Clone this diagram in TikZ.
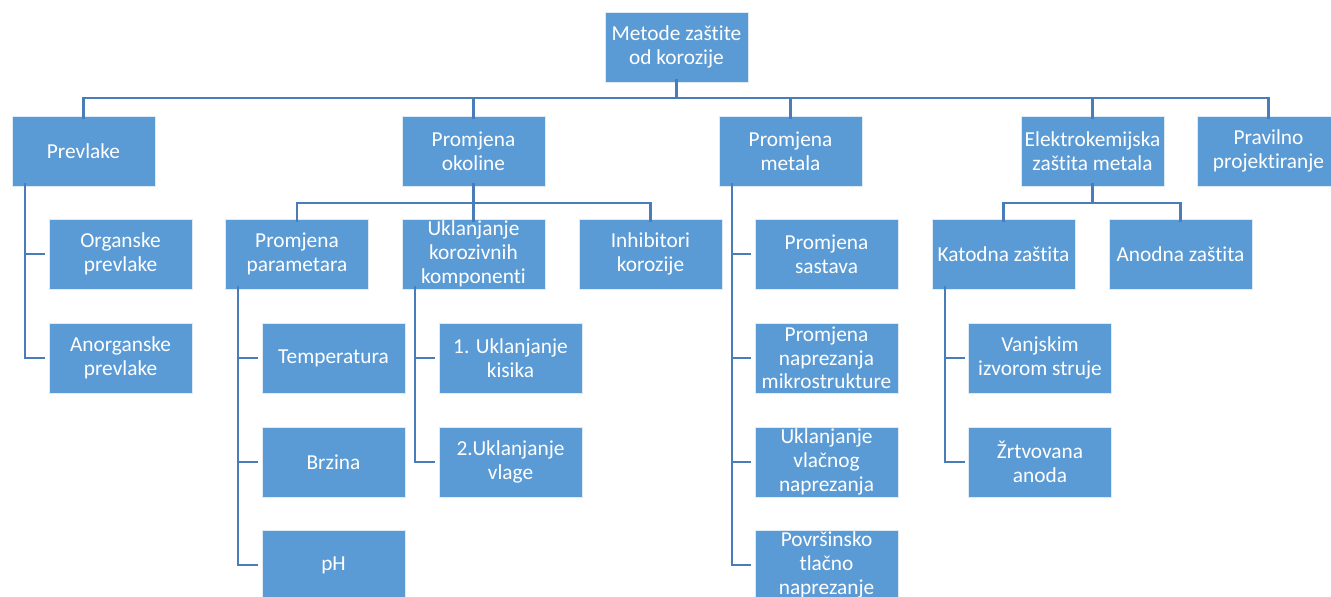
\documentclass[tikz,border=0pt]{standalone}
\usepackage{fontspec}
\setmainfont[Ligatures=NoCommon]{Carlito}
\usepackage{tikz}
\usetikzlibrary{positioning}
\definecolor{boxblue}{RGB}{91,155,213}
\definecolor{lineblue}{RGB}{72,125,185}

\begin{document}
\begin{tikzpicture}[x=0.75pt,y=0.75pt,yscale=-1,xscale=1,
  box/.style={draw=white!80!boxblue,line width=0.6pt,fill=boxblue,text=white,minimum width=107.25pt,minimum height=52.5pt,inner xsep=1pt,inner ysep=0pt,align=center,font=\fontsize{16}{17.8}\selectfont},
  link/.style={draw=lineblue,line width=1.6pt}]
\useasboundingbox (0,0) rectangle (1331,596);
\clip (0,0) rectangle (1331,596);

% Root
\node [box] (root) at (676.5,47) {Metode zaštite\\od korozije};

% Level 1
\node [box] (prevlake) at (83.5,151) {Prevlake};
\node [box] (okoline) at (473.5,151) {Promjena\\okoline};
\node [box] (metala) at (790.5,151) {Promjena\\metala};
\node [box] (elektro) at (1092.5,151) {Elektrokemijska\\zaštita metala};
\node [box] (pravilno) at (1268.5,151) {Pravilno\\projektiranje};

% Level 2
\node [box] (organ) at (120.5,254) {Organske\\prevlake};
\node [box] (anorg) at (120.5,358) {Anorganske\\prevlake};
\node [box] (param) at (297,254) {Promjena\\parametara};
\node [box] (uklanj) at (473.5,254) {Uklanjanje\\korozivnih\\komponenti};
\node [box] (inhib) at (650.5,254) {Inhibitori\\korozije};
\node [box] (sastav) at (826.5,254) {Promjena\\sastava};
\node [box] (mikro) at (826.5,358) {Promjena\\naprezanja\\mikrostrukture};
\node [box] (vlacno) at (826.5,462) {Uklanjanje\\vlačnog\\naprezanja};
\node [box] (povrs) at (826.5,565) {Površinsko\\tlačno\\naprezanje};
\node [box] (katod) at (1003.5,254) {Katodna zaštita};
\node [box] (anod) at (1180.5,254) {Anodna zaštita};

% Level 3
\node [box] (temp) at (333.5,358) {Temperatura};
\node [box] (brzina) at (333.5,462) {Brzina};
\node [box] (ph) at (333.5,565) {pH};
\node [box] (kisik) at (510.5,358) {1. Uklanjanje\\kisika};
\node [box] (vlaga) at (510.5,462) {2.Uklanjanje\\vlage};
\node [box] (vanj) at (1040,358) {Vanjskim\\izvorom struje};
\node [box] (zrtva) at (1040,462) {Žrtvovana\\anoda};

%Straight Lines: top bus
\coordinate (topbus) at (676.5,98);
\draw [link] ([yshift=-2.5pt]root.south) -- (topbus);
\draw [link] ([yshift=2.5pt]prevlake.north) |- (topbus) -| ([yshift=2.5pt]pravilno.north);
\foreach \n in {okoline,metala,elektro}
  \draw [link] ([yshift=2.5pt]\n.north) -- (\n.north |- topbus);

%Straight Lines: second buses
\coordinate (okobus) at (473.5,203);
\draw [link] ([yshift=-2.5pt]okoline.south) -- ([yshift=2.5pt]uklanj.north);
\draw [link] ([yshift=2.5pt]param.north) |- (okobus) -| ([yshift=2.5pt]inhib.north);
\coordinate (elbus) at (1092.5,203);
\draw [link] ([yshift=-2.5pt]elektro.south) -- (elbus);
\draw [link] ([yshift=2.5pt]katod.north) |- (elbus) -| ([yshift=2.5pt]anod.north);

%Straight Lines: side trunks
\coordinate (pvtrunk) at ([xshift=9.75pt,yshift=-2.5pt]prevlake.south west);
\draw [link] (pvtrunk) |- ([xshift=-2.5pt]anorg.west);
\draw [link] (pvtrunk |- organ.west) -- ([xshift=-2.5pt]organ.west);

\coordinate (patrunk) at ([xshift=9.75pt,yshift=-2.5pt]param.south west);
\draw [link] (patrunk) |- ([xshift=-2.5pt]ph.west);
\foreach \n in {temp,brzina}
  \draw [link] (patrunk |- \n.west) -- ([xshift=-2.5pt]\n.west);

\coordinate (uktrunk) at ([xshift=9.75pt,yshift=-2.5pt]uklanj.south west);
\draw [link] (uktrunk) |- ([xshift=-2.5pt]vlaga.west);
\draw [link] (uktrunk |- kisik.west) -- ([xshift=-2.5pt]kisik.west);

\coordinate (metrunk) at ([xshift=9.75pt,yshift=-2.5pt]metala.south west);
\draw [link] (metrunk) |- ([xshift=-2.5pt]povrs.west);
\foreach \n in {sastav,mikro,vlacno}
  \draw [link] (metrunk |- \n.west) -- ([xshift=-2.5pt]\n.west);

\coordinate (katrunk) at ([xshift=9.75pt,yshift=-2.5pt]katod.south west);
\draw [link] (katrunk) |- ([xshift=-2.5pt]zrtva.west);
\draw [link] (katrunk |- vanj.west) -- ([xshift=-2.5pt]vanj.west);

\end{tikzpicture}
\end{document}
